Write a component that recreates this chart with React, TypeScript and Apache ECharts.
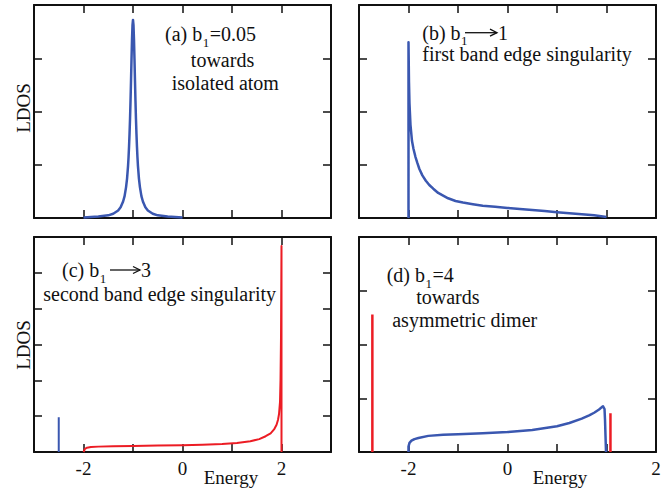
import React, { useEffect, useRef } from 'react';
import * as echarts from 'echarts';

const FONT = '"Liberation Serif", "Times New Roman", Times, serif';
const BLUE = '#3a57b0';
const RED = '#ec1c24';
const INK = '#111111';

// x axis: energy range and ticks
const xMin = -3;
const xMax = 3;
const xStep = 1;
// y axis maxima (arbitrary LDOS units) per panel
const yMaxA = 4;
const yMaxB = 4;
const yMaxC = 6;
const yMaxD = 4;

// tick labels on the bottom panels
const cTickValues = [-2, 0, 2];
const cTickLabels = ['-2', '0', '2'];
const dTickValues = [-2, 0, 3];
const dTickLabels = ['-2', '0', '2'];

// (a) b1 = 0.05 : narrow peak near -1
const panelABlue: number[][] = [
  [-2, 0.01], [-1.7, 0.03], [-1.5, 0.05], [-1.4, 0.08], [-1.3, 0.14], [-1.25, 0.2],
  [-1.2, 0.31], [-1.17, 0.41], [-1.14, 0.58], [-1.12, 0.74], [-1.1, 0.98], [-1.09, 1.14],
  [-1.08, 1.34], [-1.07, 1.58], [-1.06, 1.86], [-1.05, 2.2], [-1.04, 2.58], [-1.03, 2.98],
  [-1.02, 3.35], [-1.01, 3.62], [-1.0, 3.72], [-0.99, 3.62], [-0.98, 3.35], [-0.97, 2.98],
  [-0.96, 2.58], [-0.95, 2.2], [-0.94, 1.86], [-0.93, 1.58], [-0.92, 1.34], [-0.91, 1.14],
  [-0.9, 0.98], [-0.88, 0.74], [-0.86, 0.58], [-0.83, 0.41], [-0.8, 0.31], [-0.75, 0.2],
  [-0.7, 0.14], [-0.6, 0.08], [-0.5, 0.05], [-0.3, 0.03], [0, 0.01],
];

// (b) b1 -> 1 : edge singularity at -2
const panelBBlue: number[][] = [
  [-2, 0], [-2, 3.3], [-1.99, 2.55], [-1.98, 2.15], [-1.96, 1.75], [-1.93, 1.45],
  [-1.9, 1.3], [-1.86, 1.15], [-1.82, 1.03], [-1.78, 0.92], [-1.72, 0.8], [-1.65, 0.7],
  [-1.58, 0.62], [-1.5, 0.55], [-1.4, 0.47], [-1.3, 0.42], [-1.2, 0.37], [-1.05, 0.32],
  [-0.9, 0.29], [-0.7, 0.26], [-0.5, 0.23], [-0.25, 0.21], [0, 0.19], [0.25, 0.17],
  [0.5, 0.15], [0.75, 0.13], [1, 0.11], [1.25, 0.09], [1.5, 0.07], [1.75, 0.05], [2, 0.02],
];

// (c) b1 -> 3 : bound state at -2.5 and singularity at +2
const panelCBlue: number[][] = [[-2.5, 0], [-2.5, 0.97]];
const panelCRed: number[][] = [
  [-2, 0], [-1.97, 0.09], [-1.93, 0.12], [-1.85, 0.14], [-1.7, 0.15], [-1.4, 0.16],
  [-1, 0.17], [-0.5, 0.18], [0, 0.19], [0.4, 0.2], [0.8, 0.22], [1.1, 0.25], [1.37, 0.3],
  [1.55, 0.36], [1.68, 0.44], [1.78, 0.52], [1.85, 0.63], [1.9, 0.76], [1.93, 0.9],
  [1.95, 1.06], [1.97, 1.4], [1.98, 2.0], [1.99, 3.2], [1.995, 4.5], [2, 5.75], [2, 0],
];

// (d) b1 = 4 : band plus two split-off states
const panelDBlue: number[][] = [
  [-2, 0], [-2, 0.1], [-1.98, 0.17], [-1.94, 0.21], [-1.88, 0.24], [-1.8, 0.26],
  [-1.6, 0.3], [-1.3, 0.32], [-1, 0.33], [-0.5, 0.35], [0, 0.37], [0.5, 0.41],
  [0.8, 0.45], [1, 0.48], [1.25, 0.54], [1.5, 0.62], [1.65, 0.68], [1.75, 0.73],
  [1.85, 0.79], [1.9, 0.83], [1.93, 0.85], [1.96, 0.8], [1.97, 0.6], [1.98, 0.3], [1.99, 0],
];
const panelDRedLeft: number[][] = [[-2.73, 0], [-2.73, 2.56]];
const panelDRedRight: number[][] = [[2.08, 0], [2.08, 0.72]];

const grids = [
  { left: 34, top: 5, width: 297, height: 213 },
  { left: 359, top: 5, width: 297, height: 213 },
  { left: 34, top: 237, width: 297, height: 215 },
  { left: 359, top: 237, width: 297, height: 215 },
];

const axisLine = { show: true, onZero: false, lineStyle: { color: INK, width: 2 } };
const axisTick = { show: true, inside: true, length: 8, lineStyle: { color: INK, width: 1.5 } };

function labelFormatter(values: number[] | null, labels: string[] | null) {
  return (v: number) => {
    if (!values || !labels) return '';
    const i = values.indexOf(Math.round(v * 1000) / 1000);
    return i >= 0 ? labels[i] : '';
  };
}

function buildAxes() {
  const yMaxes = [yMaxA, yMaxB, yMaxC, yMaxD];
  const tickSets: [number[] | null, string[] | null][] = [
    [null, null], [null, null], [cTickValues, cTickLabels], [dTickValues, dTickLabels],
  ];
  const xAxis: any[] = [];
  const yAxis: any[] = [];
  for (let i = 0; i < 4; i++) {
    const [vals, labs] = tickSets[i];
    xAxis.push({
      type: 'value', gridIndex: i, position: 'bottom', min: xMin, max: xMax, interval: xStep,
      axisLine, axisTick, splitLine: { show: false },
      axisLabel: {
        show: !!vals, margin: 7, fontFamily: FONT, fontSize: 19, color: INK,
        showMinLabel: true, showMaxLabel: true, formatter: labelFormatter(vals, labs),
      },
    });
    xAxis.push({
      type: 'value', gridIndex: i, position: 'top', min: xMin, max: xMax, interval: xStep,
      axisLine, axisTick, splitLine: { show: false }, axisLabel: { show: false },
    });
    yAxis.push({
      type: 'value', gridIndex: i, position: 'left', min: 0, max: yMaxes[i], interval: 1,
      axisLine, axisTick, splitLine: { show: false }, axisLabel: { show: false },
    });
    yAxis.push({
      type: 'value', gridIndex: i, position: 'right', min: 0, max: yMaxes[i], interval: 1,
      axisLine, axisTick, splitLine: { show: false }, axisLabel: { show: false },
    });
  }
  return { xAxis, yAxis };
}

function line(panel: number, data: number[][], color: string, width: number) {
  return {
    type: 'line', xAxisIndex: panel * 2, yAxisIndex: panel * 2, data, color,
    showSymbol: false, symbol: 'none', smooth: false, clip: true, z: 3,
    lineStyle: { color, width, join: 'round' }, emphasis: { disabled: true },
  };
}

let measureCtx: CanvasRenderingContext2D | null = null;
function textWidth(text: string, size: number) {
  if (!measureCtx) measureCtx = document.createElement('canvas').getContext('2d');
  if (!measureCtx) return text.length * size * 0.45;
  measureCtx.font = `${size}px ${FONT}`;
  return measureCtx.measureText(text).width;
}

function plain(x: number, baseline: number, text: string, align: string, size = 20) {
  return {
    type: 'text', x, y: baseline - 0.34 * size, z: 10,
    style: { text, font: `${size}px ${FONT}`, fill: INK, align, verticalAlign: 'middle' },
  };
}
// main text + subscript + optional trailing text, left aligned at x
function withSub(x: number, baseline: number, head: string, sub: string, tail: string) {
  const w1 = textWidth(head, 20);
  const w2 = textWidth(sub, 13);
  const els: any[] = [plain(x, baseline, head, 'left'), plain(x + w1 + 0.5, baseline + 6, sub, 'left', 13)];
  if (tail) els.push(plain(x + w1 + w2 + 1, baseline, tail, 'left'));
  return els;
}
function arrow(x1: number, x2: number, y: number) {
  return [
    { type: 'line', z: 10, shape: { x1, y1: y, x2, y2: y }, style: { stroke: INK, lineWidth: 1.3 } },
    {
      type: 'polyline', z: 10,
      shape: { points: [[x2 - 7, y - 3.5], [x2, y], [x2 - 7, y + 3.5]] },
      style: { stroke: INK, lineWidth: 1.3, fill: null },
    },
  ];
}

export default function App() {
  const ref = useRef<HTMLDivElement>(null);
  useEffect(() => {
    if (!ref.current) return;
    const chart = echarts.init(ref.current, null, { renderer: 'svg' });
    const { xAxis, yAxis } = buildAxes();
    const graphic: any[] = [
      // (a)
      ...withSub(165, 40.7, '(a) b', '1', '=0.05'),
      plain(222.5, 66.7, 'towards', 'center'),
      plain(225.3, 89.3, 'isolated atom', 'center'),
      // (b)
      ...withSub(422.3, 39.3, '(b) b', '1', ''),
      ...arrow(465, 497, 32.7),
      plain(498, 39.3, '1', 'left'),
      plain(422.3, 60.7, 'first band edge singularity', 'left'),
      // (c)
      ...withSub(62, 276.7, '(c) b', '1', ''),
      ...arrow(110, 140, 270),
      plain(141, 276.7, '3', 'left'),
      plain(43.3, 300.7, 'second band edge singularity', 'left'),
      // (d)
      ...withSub(386.7, 281.7, '(d) b', '1', '=4'),
      plain(447.8, 304, 'towards', 'center'),
      plain(464.7, 326.7, 'asymmetric dimer', 'center'),
      // axis titles
      { type: 'text', x: 23, y: 108, rotation: Math.PI / 2, z: 10,
        style: { text: 'LDOS', font: `19px ${FONT}`, fill: INK, align: 'center', verticalAlign: 'middle' } },
      { type: 'text', x: 23, y: 345, rotation: Math.PI / 2, z: 10,
        style: { text: 'LDOS', font: `19px ${FONT}`, fill: INK, align: 'center', verticalAlign: 'middle' } },
      plain(231, 484, 'Energy', 'center', 19),
      plain(560, 484, 'Energy', 'center', 19),
    ];
    chart.setOption({
      animation: false,
      backgroundColor: '#ffffff',
      grid: grids.map((g) => ({ ...g, containLabel: false })),
      xAxis,
      yAxis,
      series: [
        line(0, panelABlue, BLUE, 2.5),
        line(1, panelBBlue, BLUE, 2.5),
        line(2, panelCBlue, BLUE, 2),
        line(2, panelCRed, RED, 2),
        line(3, panelDBlue, BLUE, 2.5),
        line(3, panelDRedLeft, RED, 2.5),
        line(3, panelDRedRight, RED, 2.5),
      ],
      graphic,
    });
    return () => chart.dispose();
  }, []);
  return (
    <div
      ref={ref}
      style={{ position: 'absolute', left: 0, top: 0, width: 672, height: 491, background: '#fff' }}
    />
  );
}
